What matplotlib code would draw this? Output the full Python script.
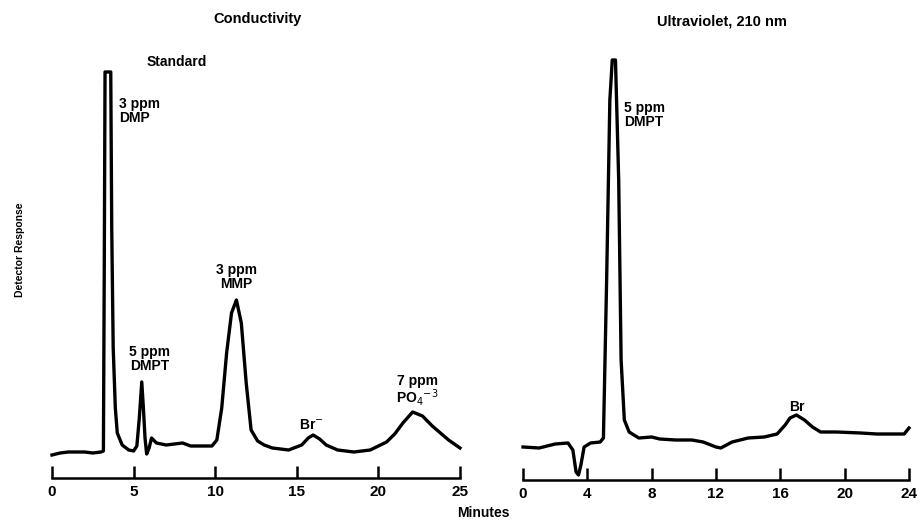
import matplotlib
matplotlib.use("Agg")
import matplotlib.pyplot as plt

# Conductivity chromatogram (minutes, response)
cond_t = [0.0, 0.5, 1.0, 1.5, 2.0, 2.5, 3.0, 3.15, 3.2, 3.25, 3.6, 3.66, 3.75, 3.88, 4.0, 4.3, 4.7, 5.0,
          5.2, 5.35, 5.5, 5.6, 5.7, 5.8, 5.95, 6.1, 6.4, 7.0, 7.5, 8.0, 8.5, 9.0, 9.8, 10.1, 10.4,
          10.7, 11.0, 11.3, 11.6, 11.9, 12.2, 12.6, 13.0, 13.5, 14.5, 15.3, 15.7, 16.0, 16.4, 16.8,
          17.5, 18.5, 19.5, 20.5, 21.0, 21.5, 22.1, 22.7, 23.3, 23.8, 24.3, 25.0]
cond_y = [23, 25, 26, 26, 26, 25, 26, 27, 200, 406, 406, 250, 130, 70, 45, 33, 28, 27,
          32, 60, 96, 70, 40, 24, 30, 40, 35, 33, 34, 35, 32, 32, 32, 38, 70,
          125, 165, 178, 155, 95, 48, 37, 33, 30, 28, 33, 40, 43, 39, 33,
          28, 26, 28, 36, 44, 55, 66, 62, 52, 45, 38, 30]

# Ultraviolet 210 nm chromatogram
uv_t = [0.0, 1.0, 2.0, 2.8, 3.1, 3.3, 3.45, 3.6, 3.8, 4.2, 4.8, 5.0, 5.2, 5.4, 5.55, 5.75,
        5.95, 6.1, 6.3, 6.6, 7.2, 8.0, 8.5, 9.5, 10.5, 11.2, 12.0, 12.3, 13.0, 14.0, 15.0,
        15.8, 16.3, 16.6, 17.0, 17.5, 18.0, 18.5, 19.5, 21.0, 22.0, 23.0, 23.7, 24.0]
uv_y = [33, 32, 36, 37, 30, 8, 5, 15, 33, 37, 38, 42, 200, 380, 420, 420,
        300, 120, 60, 48, 42, 43, 41, 40, 40, 38, 33, 32, 38, 42, 43,
        46, 55, 62, 65, 60, 53, 48, 48, 47, 46, 46, 46, 52]

cond_ticks = [0, 5, 10, 15, 20, 25]
uv_ticks = [0, 4, 8, 12, 16, 20, 24]

W, H = 919, 522
fig = plt.figure(figsize=(W / 100, H / 100), dpi=100)
plt.rcParams['font.family'] = ['Liberation Sans', 'DejaVu Sans']

ymax = 430
ax1 = fig.add_axes([52 / W, 44 / H, (460 - 52) / W, ymax / H])
ax2 = fig.add_axes([523 / W, 42 / H, (909 - 523) / W, ymax / H])

for ax, t, y, ticks, xmax in [(ax1, cond_t, cond_y, cond_ticks, 25), (ax2, uv_t, uv_y, uv_ticks, 24)]:
    ax.plot(t, y, color='black', lw=2.4, solid_joinstyle='round', clip_on=False)
    ax.set_xlim(0, xmax)
    ax.set_ylim(0, ymax)
    for s in ['top', 'right', 'left']:
        ax.spines[s].set_visible(False)
    ax.spines['bottom'].set_linewidth(1.8)
    ax.set_yticks([])
    ax.set_xticks(ticks)
    ax.set_xticklabels([str(v) for v in ticks], fontweight='bold', fontsize=11)
    ax.tick_params(axis='x', direction='in', length=9, width=1.8, pad=5)

tk = dict(fontweight='bold', fontsize=10, color='black')
ax1.set_title('Conductivity', fontweight='bold', fontsize=10.5, pad=18, x=(258 - 52) / (460 - 52))
ax2.set_title('Ultraviolet, 210 nm', fontweight='bold', fontsize=10.5, pad=18, x=(722 - 523) / (909 - 523))

ax1.text(7.65, 416, 'Standard', ha='center', va='center', **tk)
ax1.text(4.1, 367, '3 ppm\nDMP', ha='left', va='center', linespacing=0.95, **tk)
ax1.text(6.0, 119, '5 ppm\nDMPT', ha='center', va='center', linespacing=0.95, **tk)
ax1.text(11.3, 201, '3 ppm\nMMP', ha='center', va='center', linespacing=0.95, **tk)
ax1.text(15.9, 53, 'Br$^{-}$', ha='center', va='center', **tk)
ax1.text(22.4, 87, '7 ppm\nPO$_4$$^{-3}$', ha='center', va='center', linespacing=0.95, **tk)

ax2.text(6.3, 365, '5 ppm\nDMPT', ha='left', va='center', linespacing=0.95, **tk)
ax2.text(17.0, 73, 'Br', ha='center', va='center', **tk)

fig.text(20 / W, 1 - 250 / H, 'Detector Response', rotation=90, ha='center', va='center',
         fontweight='bold', fontsize=7.5)
fig.text(483 / W, 1 - 513 / H, 'Minutes', ha='center', va='center', fontweight='bold', fontsize=10)

fig.savefig('out.png', dpi=100)
